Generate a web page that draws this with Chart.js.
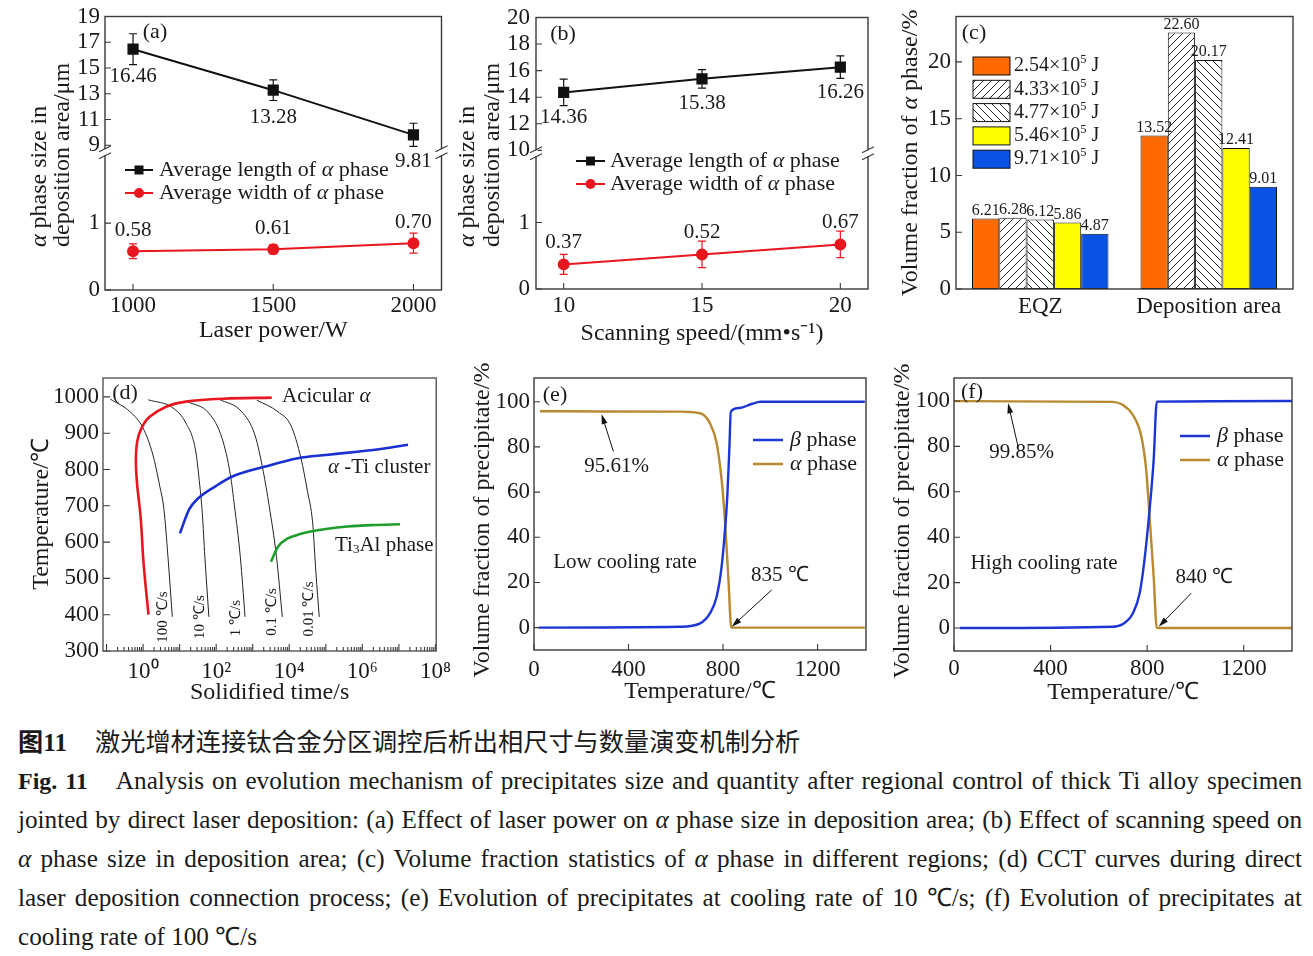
<!DOCTYPE html>
<html lang="zh">
<head>
<meta charset="utf-8">
<title>Fig. 11</title>
<script src="https://cdn.jsdelivr.net/npm/chart.js@4.4.1/dist/chart.umd.min.js"></script>
<style>
  html, body { margin: 0; padding: 0; background: #fff; }
  #page { position: relative; width: 1313px; height: 956px; overflow: hidden; background: #fff; }
  #page canvas { position: absolute; }
  .cap { position: absolute; left: 18px; width: 1284px; color: #1a1a1a;
         font-family: "Liberation Serif", "Times New Roman", serif; font-size: 25.2px; line-height: 39px; }
  .cap .ln { height: 39px; white-space: nowrap; }
  .cjk { font-family: "Noto Sans CJK SC", sans-serif; }
</style>
</head>
<body>
<div id="page">
  <canvas id="cA" width="450" height="350" style="left:0;top:0"></canvas>
  <canvas id="cB" width="430" height="350" style="left:450px;top:0"></canvas>
  <canvas id="cC" width="433" height="350" style="left:880px;top:0"></canvas>
  <canvas id="cD" width="460" height="350" style="left:0;top:360px"></canvas>
  <canvas id="cE" width="420" height="350" style="left:460px;top:360px"></canvas>
  <canvas id="cF" width="433" height="350" style="left:880px;top:360px"></canvas>

  <div class="cap" style="top:721px;">
    <b><span class="cjk">图</span>11</b><span class="cjk" style="margin-left:28px;">激光增材连接钛合金分区调控后析出相尺寸与数量演变机制分析</span>
  </div>
  <div class="cap" style="top:761px;">
    <div class="ln"><span><b style="font-size:24px">Fig. 11</b><span style="display:inline-block;width:28px"></span>Analysis on evolution mechanism of precipitates size and quantity after regional control of thick Ti alloy specimen</span></div>
    <div class="ln"><span>jointed by direct laser deposition: (a) Effect of laser power on <i>α</i> phase size in deposition area; (b) Effect of scanning speed on</span></div>
    <div class="ln"><span><i>α</i> phase size in deposition area; (c) Volume fraction statistics of <i>α</i> phase in different regions; (d) CCT curves during direct</span></div>
    <div class="ln"><span>laser deposition connection process; (e) Evolution of precipitates at cooling rate of 10 ℃/s; (f) Evolution of precipitates at</span></div>
    <div class="ln last"><span>cooling rate of 100 ℃/s</span></div>
  </div>
</div>

<script>
// =======================
// Data
// (a) laser power
const powerW = [1000, 1500, 2000];
const lenByPower = [16.46, 13.28, 9.81];
const lenByPowerErr = [1.2, 0.8, 0.9];
const widByPower = [0.58, 0.61, 0.7];
const widByPowerErr = [0.11, 0.07, 0.15];
const aUpTicks = [9, 11, 13, 15, 17, 19];
const aLowTicks = [0, 1];

// (b) scanning speed
const speedMm = [10, 15, 20];
const lenBySpeed = [14.36, 15.38, 16.26];
const lenBySpeedErr = [1.0, 0.7, 0.85];
const widBySpeed = [0.37, 0.52, 0.67];
const widBySpeedErr = [0.15, 0.2, 0.2];
const bUpTicks = [10, 12, 14, 16, 18, 20];
const bLowTicks = [0, 1];

// (c) volume fraction
const regions = ["EQZ", "Deposition area"];
const energyLabels = ["2.54×10⁵ J", "4.33×10⁵ J", "4.77×10⁵ J", "5.46×10⁵ J", "9.71×10⁵ J"];
const fracEQZ = [6.21, 6.28, 6.12, 5.86, 4.87];
const fracDep = [13.52, 22.6, 20.17, 12.41, 9.01];
const cTicks = [0, 5, 10, 15, 20];

// (d) CCT curves (time in s, temperature in ℃)
const acicularTime = [1.41, 1.17, 1.0, 0.89, 0.81, 0.69, 0.635, 0.69, 0.905, 1.51, 4.27, 14.8, 158, 3311];
const acicularTemp = [400, 480, 560, 647, 694, 757, 822, 877, 914, 945, 973, 987, 995, 998];
const clusterTime = [10.2, 18.2, 31.6, 100, 269, 2188, 17378, 1e5, 7.24e5, 3.98e6, 1.78e7];
const clusterTemp = [624, 690, 720, 755, 780, 808, 831, 840, 849, 858, 868];
const ti3alTime = [3162, 4898, 9120, 19953, 38905, 1e5, 3.89e5, 2e6, 1.07e7];
const ti3alTemp = [546, 587, 610, 622, 629, 636, 643, 647, 649];
const coolRates = ["100 ℃/s", "10 ℃/s", "1 ℃/s", "0.1 ℃/s", "0.01 ℃/s"];
const coolTime = [
  [0.126, 0.44, 1.0, 1.86, 2.82, 3.72, 4.79, 6.31],
  [1.38, 6.46, 14.8, 27.5, 35.5, 41.7, 49, 63.1],
  [16.6, 63.1, 145, 245, 316, 457, 617],
  [117, 501, 1148, 1950, 2818, 4467, 6457],
  [1288, 4898, 11220, 20893, 31623, 43652, 53703, 66069],
];
const coolTemp = [
  [994, 959, 914, 840, 757, 690, 560, 394],
  [992, 970, 928, 851, 757, 680, 560, 394],
  [987, 955, 886, 785, 700, 560, 394],
  [994, 959, 895, 794, 700, 560, 394],
  [991, 959, 920, 831, 739, 653, 515, 394],
];
const dTempTicks = [300, 400, 500, 600, 700, 800, 900, 1000];
const dLabelExp = [0, 2, 4, 6, 8];

// (e) low cooling rate
const lowBetaT = [20, 618, 703, 745, 773, 794, 808, 818, 827, 833, 870, 920, 960, 1400];
const lowBetaV = [0, 0.4, 1.9, 6.4, 13.7, 27, 43, 58, 80, 95.6, 97.2, 99, 100, 100];
const lowAlphaT = [25, 300, 618, 703, 745, 773, 794, 808, 823, 835, 1400];
const lowAlphaV = [95.8, 95.7, 95.6, 94.9, 90.4, 81.6, 65.4, 47.7, 21, 0, 0];
// (f) high cooling rate
const highBetaT = [25, 658, 700, 741, 769, 789, 810, 827, 840, 1400];
const highBetaV = [0, 0.6, 1.8, 6.5, 15.3, 30, 52, 74, 99.7, 100];
const highAlphaT = [0, 658, 700, 741, 776, 796, 813, 827, 840, 1400];
const highAlphaV = [99.9, 99.6, 98.2, 93.8, 84.3, 69.6, 44.6, 22.6, 0, 0];
const tempTicks = [0, 400, 800, 1200];
const fracTicks = [0, 20, 40, 60, 80, 100];

// =======================
// Utilities
const SERIF = '"Liberation Serif", "Times New Roman", serif';
const INK = "#1a1a1a";
const FRAME = "#3a3a3a";
const RED = "#e8161e";
const BLUE = "#1c36d6";
const GOLD = "#b8892f";
const SUP = "⁰¹²³⁴⁵⁶⁷⁸⁹";
const SUB = "₀₁₂₃₄₅₆₇₈₉";
const TITLE = 24;
const F = (size) => ({ family: SERIF, size, lineHeight: 1 });
const pts = (xs, ys) => xs.map((x, i) => ({ x, y: ys[i] }));
const alpha = (before, after) => [{ t: before }, { t: "α", i: true }, { t: after }];

Chart.defaults.font.family = SERIF;
Chart.defaults.color = INK;

function cssFont(size, italic) {
  return (italic ? "italic " : "") + size + "px " + SERIF;
}

// split unicode super/subscript digits into raised / lowered segments
function toSegs(s) {
  const src = typeof s === "string" ? [{ t: s }] : s;
  const out = [];
  for (const g of src) {
    let buf = "";
    for (const ch of g.t) {
      const up = SUP.indexOf(ch), dn = SUB.indexOf(ch);
      if (up >= 0 || dn >= 0) {
        if (buf) out.push({ t: buf, i: g.i });
        buf = "";
        out.push({ t: String(up >= 0 ? up : dn), i: g.i, shift: up >= 0 ? -1 : 1 });
      } else buf += ch;
    }
    if (buf) out.push({ t: buf, i: g.i });
  }
  return out;
}

function drawRich(ctx, s, x, y, size, align, rot, color) {
  const segs = toSegs(s);
  const fs = (g) => (g.shift ? size * 0.62 : size);
  ctx.save();
  ctx.translate(x, y);
  ctx.rotate(rot || 0);
  ctx.fillStyle = color || INK;
  ctx.textBaseline = "middle";
  ctx.textAlign = "left";
  let w = 0;
  for (const g of segs) {
    ctx.font = cssFont(fs(g), g.i);
    w += ctx.measureText(g.t).width;
  }
  let cx = align === "center" ? -w / 2 : align === "right" ? -w : 0;
  for (const g of segs) {
    ctx.font = cssFont(fs(g), g.i);
    const dy = g.shift ? g.shift * size * (g.shift < 0 ? 0.3 : 0.22) : 0;
    ctx.fillText(g.t, cx, dy);
    cx += ctx.measureText(g.t).width;
  }
  ctx.restore();
}

function hatch(dir) {
  const c = document.createElement("canvas");
  c.width = c.height = 8;
  const g = c.getContext("2d");
  g.fillStyle = "#fff";
  g.fillRect(0, 0, 8, 8);
  g.strokeStyle = "#222";
  g.lineWidth = 1;
  g.beginPath();
  if (dir > 0) {
    g.moveTo(0, 8); g.lineTo(8, 0);
    g.moveTo(-2, 2); g.lineTo(2, -2);
    g.moveTo(6, 10); g.lineTo(10, 6);
  } else {
    g.moveTo(0, 0); g.lineTo(8, 8);
    g.moveTo(-2, 6); g.lineTo(2, 10);
    g.moveTo(6, -2); g.lineTo(10, 2);
  }
  g.stroke();
  return g.createPattern(c, "repeat");
}

// scales
function xAxis(o) {
  const ticks = { font: F(o.fs || 23), color: INK, padding: o.pad, maxRotation: 0, autoSkip: false };
  if (o.fmt) ticks.callback = o.fmt;
  const ax = {
    type: o.type || "linear",
    afterFit: (s) => { s.height = o.h; },
    grid: { display: false, drawTicks: false },
    border: { display: false },
    ticks,
    title: o.title
      ? { display: true, text: o.title, font: F(TITLE), color: INK, padding: { top: 0, bottom: o.tpad } }
      : { display: false },
  };
  if (o.min !== undefined) ax.min = o.min;
  if (o.max !== undefined) ax.max = o.max;
  if (o.ticks) ax.afterBuildTicks = (s) => { s.ticks = o.ticks.map((v) => ({ value: v })); };
  return ax;
}

function yAxis(o) {
  const ax = {
    type: "linear",
    axis: "y",
    position: "left",
    min: o.min,
    max: o.max,
    afterBuildTicks: (s) => { s.ticks = o.ticks.map((v) => ({ value: v })); },
    afterFit: (s) => { s.width = o.w; },
    grid: { display: false, drawTicks: false },
    border: { display: false },
    ticks: { font: F(o.fs || 23), color: INK, padding: o.pad, autoSkip: false, callback: (v) => String(v) },
  };
  if (o.stack) {
    ax.stack = o.stack;
    ax.stackWeight = o.sw;
  }
  return ax;
}

function baseOptions(pad, scales) {
  return {
    responsive: false,
    animation: false,
    events: [],
    layout: { padding: pad },
    plugins: { legend: { display: false }, tooltip: { enabled: false } },
    scales,
  };
}

function lineSet(label, data, yAxisID, color, marker) {
  return {
    label, data, yAxisID,
    borderColor: color, backgroundColor: color,
    pointBackgroundColor: color, pointBorderColor: color,
    pointStyle: marker, pointRadius: marker === "rect" ? 6.5 : 5,
    borderWidth: 2, tension: 0,
  };
}

function curveSet(label, data, color, width, smooth) {
  const d = {
    label, data, borderColor: color, backgroundColor: color,
    borderWidth: width, pointRadius: 0, fill: false,
  };
  if (smooth === "mono") d.cubicInterpolationMode = "monotone";
  else d.tension = smooth || 0;
  return d;
}

// =======================
// Decoration plugin: inward ticks, frame, breaks, error bars, labels, legends
function deco(cfg) {
  return {
    id: "deco",
    afterDatasetsDraw(chart) {
      const ctx = chart.ctx;
      (cfg.errors || []).forEach(({ ds, err }) => {
        const meta = chart.getDatasetMeta(ds);
        const ys = chart.scales[meta.yAxisID];
        const set = chart.data.datasets[ds];
        ctx.save();
        ctx.strokeStyle = set.borderColor;
        ctx.lineWidth = 1.2;
        meta.data.forEach((el, j) => {
          const v = set.data[j].y;
          const t = ys.getPixelForValue(v + err[j]);
          const b = ys.getPixelForValue(v - err[j]);
          ctx.beginPath();
          ctx.moveTo(el.x, t); ctx.lineTo(el.x, b);
          ctx.moveTo(el.x - 4, t); ctx.lineTo(el.x + 4, t);
          ctx.moveTo(el.x - 4, b); ctx.lineTo(el.x + 4, b);
          ctx.stroke();
        });
        ctx.restore();
      });
    },
    afterDraw(chart) {
      const { ctx, chartArea: ca } = chart;

      // inward tick marks
      (cfg.ticks || []).forEach(({ id, len, minor }) => {
        const s = chart.scales[id];
        ctx.save();
        ctx.strokeStyle = FRAME;
        ctx.lineWidth = 1.1;
        ctx.beginPath();
        s.ticks.forEach((t) => {
          let l = len;
          if (minor) {
            const e = Math.log10(t.value);
            if (Math.abs(e - Math.round(e)) > 1e-6) l = minor;
          }
          const p = s.getPixelForValue(t.value);
          if (s.isHorizontal()) { ctx.moveTo(p, ca.bottom); ctx.lineTo(p, ca.bottom - l); }
          else { ctx.moveTo(ca.left, p); ctx.lineTo(ca.left + l, p); }
        });
        ctx.stroke();
        ctx.restore();
      });

      // frame
      ctx.save();
      ctx.strokeStyle = cfg.frameColor || FRAME;
      ctx.lineWidth = 1.4;
      ctx.strokeRect(ca.left, ca.top, ca.right - ca.left, ca.bottom - ca.top);
      ctx.restore();

      // axis break marks
      if (cfg.breakAt) {
        const y = chart.scales[cfg.breakAt].top;
        ctx.save();
        [ca.left, ca.right].forEach((x) => {
          ctx.fillStyle = "#fff";
          ctx.fillRect(x - 2, y - 3, 4, 6);
          ctx.strokeStyle = FRAME;
          ctx.lineWidth = 1.3;
          ctx.beginPath();
          [-3.5, 3.5].forEach((o) => {
            ctx.moveTo(x - 6, y + o + 3);
            ctx.lineTo(x + 6, y + o - 3);
          });
          ctx.stroke();
        });
        ctx.restore();
      }

      // value labels next to points
      (cfg.pointLabels || []).forEach(({ ds, dy }) => {
        const meta = chart.getDatasetMeta(ds);
        const set = chart.data.datasets[ds];
        meta.data.forEach((el, j) => drawRich(ctx, set.data[j].y.toFixed(2), el.x, el.y + dy, 21, "center"));
      });

      // value labels on bars
      if (cfg.barLabels) {
        chart.data.datasets.forEach((set, i) => {
          chart.getDatasetMeta(i).data.forEach((el, j) => {
            drawRich(ctx, set.data[j].toFixed(2), el.x, el.y - 8, 16, "center");
          });
        });
      }

      // free texts (pixel or data coordinates)
      (cfg.texts || []).forEach((t) => {
        let x = t.x, y = t.y;
        if (t.data) {
          x = chart.scales.x.getPixelForValue(t.x);
          y = chart.scales.y.getPixelForValue(t.y);
        }
        drawRich(ctx, t.s, x, y, t.size || 22, t.align || "left", t.rot || 0);
      });

      // arrows in data coordinates
      (cfg.arrows || []).forEach((a) => {
        const xs = chart.scales.x, ys = chart.scales.y;
        const x1 = xs.getPixelForValue(a.from[0]), y1 = ys.getPixelForValue(a.from[1]);
        const x2 = xs.getPixelForValue(a.to[0]), y2 = ys.getPixelForValue(a.to[1]);
        const ang = Math.atan2(y2 - y1, x2 - x1);
        const c = Math.cos(ang), s = Math.sin(ang);
        ctx.save();
        ctx.strokeStyle = "#111";
        ctx.fillStyle = "#111";
        ctx.lineWidth = 1;
        ctx.beginPath();
        ctx.moveTo(x1, y1);
        ctx.lineTo(x2 - 7 * c, y2 - 7 * s);
        ctx.stroke();
        ctx.beginPath();
        ctx.moveTo(x2, y2);
        ctx.lineTo(x2 - 10 * c - 3 * s, y2 - 10 * s + 3 * c);
        ctx.lineTo(x2 - 10 * c + 3 * s, y2 - 10 * s - 3 * c);
        ctx.closePath();
        ctx.fill();
        ctx.restore();
      });

      // line legends
      (cfg.legend || []).forEach((it) => {
        ctx.save();
        ctx.strokeStyle = it.color;
        ctx.fillStyle = it.color;
        ctx.lineWidth = it.lw || 2;
        ctx.beginPath();
        ctx.moveTo(it.x1, it.y);
        ctx.lineTo(it.x2, it.y);
        ctx.stroke();
        const cx = (it.x1 + it.x2) / 2;
        if (it.marker === "rect") ctx.fillRect(cx - 4.5, it.y - 4.5, 9, 9);
        if (it.marker === "circle") {
          ctx.beginPath();
          ctx.arc(cx, it.y, 5, 0, Math.PI * 2);
          ctx.fill();
        }
        ctx.restore();
        drawRich(ctx, it.s, it.tx, it.y, it.size || 22, "left");
      });

      // box legends
      (cfg.boxes || []).forEach((b) => {
        ctx.save();
        ctx.fillStyle = b.fill;
        ctx.fillRect(b.x, b.y - b.h / 2, b.w, b.h);
        ctx.strokeStyle = "#111";
        ctx.lineWidth = 1;
        ctx.strokeRect(b.x, b.y - b.h / 2, b.w, b.h);
        ctx.restore();
        drawRich(ctx, b.s, b.tx, b.y, b.size || 20, "left");
      });
    },
  };
}

const VT = -Math.PI / 2;

// =======================
// (a) Laser power  (lower axis first: Chart.js stacks it at the bottom)
new Chart(document.getElementById("cA"), {
  type: "line",
  data: {
    datasets: [
      lineSet("Average length of α phase", pts(powerW, lenByPower), "yUp", "#111", "rect"),
      lineSet("Average width of α phase", pts(powerW, widByPower), "yLow", RED, "circle"),
    ],
  },
  options: baseOptions({ left: 0, top: 16, right: 7, bottom: 0 }, {
    x: xAxis({ min: 900, max: 2100, ticks: powerW, h: 60, pad: 4, title: "Laser power/W", tpad: 7, fmt: (v) => String(v) }),
    yLow: yAxis({ min: 0, max: 2.06, ticks: aLowTicks, w: 105, pad: 5, stack: "a", sw: 138 }),
    yUp: yAxis({ min: 8.46, max: 19, ticks: aUpTicks, w: 105, pad: 5, stack: "a", sw: 136 }),
  }),
  plugins: [deco({
    ticks: [{ id: "x", len: 6 }, { id: "yUp", len: 6 }, { id: "yLow", len: 6 }],
    breakAt: "yLow",
    errors: [{ ds: 0, err: lenByPowerErr }, { ds: 1, err: widByPowerErr }],
    pointLabels: [{ ds: 0, dy: 27 }, { ds: 1, dy: -21 }],
    texts: [
      { s: "(a)", x: 155, y: 32, align: "center" },
      { s: alpha("", " phase size in"), x: 40, y: 247, rot: VT, size: TITLE },
      { s: "deposition area/μm", x: 63, y: 247, rot: VT, size: TITLE },
    ],
    legend: [
      { x1: 125, x2: 153, y: 170, color: "#111", marker: "rect", tx: 159, s: alpha("Average length of ", " phase") },
      { x1: 125, x2: 153, y: 193, color: RED, marker: "circle", tx: 159, s: alpha("Average width of ", " phase") },
    ],
  })],
});

// =======================
// (b) Scanning speed
new Chart(document.getElementById("cB"), {
  type: "line",
  data: {
    datasets: [
      lineSet("Average length of α phase", pts(speedMm, lenBySpeed), "yUp", "#111", "rect"),
      lineSet("Average width of α phase", pts(speedMm, widBySpeed), "yLow", RED, "circle"),
    ],
  },
  options: baseOptions({ left: 0, top: 16, right: 12, bottom: 0 }, {
    x: xAxis({ min: 9, max: 21, ticks: speedMm, h: 61, pad: 5, title: "Scanning speed/(mm•s⁻¹)", tpad: 4, fmt: (v) => String(v) }),
    yLow: yAxis({ min: 0, max: 2.04, ticks: bLowTicks, w: 86, pad: 6, stack: "b", sw: 136.5 }),
    yUp: yAxis({ min: 9.78, max: 20, ticks: bUpTicks, w: 86, pad: 6, stack: "b", sw: 136.5 }),
  }),
  plugins: [deco({
    ticks: [{ id: "x", len: 6 }, { id: "yUp", len: 6 }, { id: "yLow", len: 6 }],
    breakAt: "yLow",
    errors: [{ ds: 0, err: lenBySpeedErr }, { ds: 1, err: widBySpeedErr }],
    pointLabels: [{ ds: 0, dy: 25 }, { ds: 1, dy: -22 }],
    texts: [
      { s: "(b)", x: 113, y: 34, align: "center" },
      { s: alpha("", " phase size in"), x: 18, y: 247, rot: VT, size: TITLE },
      { s: "deposition area/μm", x: 43, y: 247, rot: VT, size: TITLE },
    ],
    legend: [
      { x1: 126, x2: 155, y: 161, color: "#111", marker: "rect", tx: 160, s: alpha("Average length of ", " phase") },
      { x1: 126, x2: 155, y: 184, color: RED, marker: "circle", tx: 160, s: alpha("Average width of ", " phase") },
    ],
  })],
});

// =======================
// (c) Volume fraction of α phase
const barFills = ["#ff6a00", hatch(1), hatch(-1), "#ffff00", "#0a52e4"];
new Chart(document.getElementById("cC"), {
  type: "bar",
  data: {
    labels: regions,
    datasets: energyLabels.map((lab, i) => ({
      label: lab,
      data: [fracEQZ[i], fracDep[i]],
      backgroundColor: barFills[i],
      borderColor: "#111",
      borderWidth: 1,
      borderSkipped: false,
      barPercentage: 1,
      categoryPercentage: 0.81,
    })),
  },
  options: baseOptions({ left: 0, top: 16, right: 20, bottom: 0 }, {
    x: xAxis({ type: "category", h: 61, pad: 6 }),
    y: yAxis({ min: 0, max: 24, ticks: cTicks, w: 76, pad: 5 }),
  }),
  plugins: [deco({
    ticks: [{ id: "y", len: 6 }],
    barLabels: true,
    texts: [
      { s: "(c)", x: 94, y: 33, align: "center" },
      { s: alpha("Volume fraction of ", " phase/%"), x: 31, y: 153, rot: VT, align: "center", size: TITLE },
    ],
    boxes: energyLabels.map((lab, i) => ({
      x: 93, y: 66 + i * 23.3, w: 37, h: 18, fill: barFills[i], tx: 134, s: lab,
    })),
  })],
});

// =======================
// (d) CCT curves
const dTicks = [];
for (let e = -1; e <= 7; e++) {
  for (let m = 1; m <= 9; m++) {
    const v = m * Math.pow(10, e);
    if (v >= 0.08) dTicks.push(v);
  }
}
dTicks.push(1e8);
const fmtDecade = (v) => {
  const e = Math.log10(v);
  const r = Math.round(e);
  return Math.abs(e - r) < 1e-6 && dLabelExp.includes(r) ? "10" + SUP[r] : "";
};

new Chart(document.getElementById("cD"), {
  type: "line",
  data: {
    datasets: [
      curveSet("Acicular α", pts(acicularTime, acicularTemp), RED, 2.6, 0.35),
      curveSet("α-Ti cluster", pts(clusterTime, clusterTemp), "#1a2fd2", 2.6, "mono"),
      curveSet("Ti3Al phase", pts(ti3alTime, ti3alTemp), "#1f9e2c", 2.6, "mono"),
      ...coolRates.map((r, i) => curveSet(r, pts(coolTime[i], coolTemp[i]), "#222", 1, "mono")),
    ],
  },
  options: baseOptions({ left: 0, top: 18, right: 20, bottom: 0 }, {
    x: xAxis({ type: "logarithmic", min: 0.08, max: 1.05e8, ticks: dTicks, h: 59, pad: 9, title: "Solidified time/s", tpad: 5, fmt: fmtDecade }),
    y: yAxis({ min: 300, max: 1052, ticks: dTempTicks, w: 103, pad: 4 }),
  }),
  plugins: [deco({
    ticks: [{ id: "x", len: 7, minor: 4 }, { id: "y", len: 7 }],
    frameColor: "#555",
    texts: [
      { s: "(d)", x: 125, y: 33, align: "center" },
      { s: "Temperature/℃", x: 42, y: 154, rot: VT, align: "center", size: TITLE },
      { s: alpha("Acicular ", ""), x: 282, y: 36, size: 21 },
      { s: [{ t: "α", i: true }, { t: " -Ti cluster" }], x: 328, y: 107, size: 21 },
      { s: "Ti₃Al phase", x: 335, y: 185, size: 21 },
      { s: coolRates[0], x: 163, y: 257, rot: VT, align: "center", size: 15 },
      { s: coolRates[1], x: 200, y: 257, rot: VT, align: "center", size: 15 },
      { s: coolRates[2], x: 236, y: 258, rot: VT, align: "center", size: 15 },
      { s: coolRates[3], x: 272, y: 252, rot: VT, align: "center", size: 15 },
      { s: coolRates[4], x: 309, y: 249, rot: VT, align: "center", size: 15 },
    ],
  })],
});

// =======================
// (e) and (f) precipitate evolution
function phaseChart(id, pad, xMax, yMin, yMax, beta, alphaPts, extra) {
  new Chart(document.getElementById(id), {
    type: "line",
    data: {
      datasets: [
        curveSet("β phase", beta, BLUE, 2.4, "mono"),
        curveSet("α phase", alphaPts, GOLD, 2.4, "mono"),
      ],
    },
    options: baseOptions(pad, {
      x: xAxis({ min: 0, max: xMax, ticks: tempTicks, h: extra.xh, pad: extra.xpad, title: "Temperature/℃", tpad: extra.tpad, fmt: (v) => String(v) }),
      y: yAxis({ min: yMin, max: yMax, ticks: fracTicks, w: 74, pad: 4, fs: 23 }),
    }),
    plugins: [deco(extra.deco)],
  });
}

phaseChart("cE", { left: 0, top: 18, right: 14, bottom: 0 }, 1405, -9.9, 110.5,
  pts(lowBetaT, lowBetaV), pts(lowAlphaT, lowAlphaV), {
    xh: 60, xpad: 8, tpad: 6,
    deco: {
      ticks: [{ id: "x", len: 6 }, { id: "y", len: 6 }],
      texts: [
        { s: "(e)", x: 95, y: 35, align: "center" },
        { s: "Volume fraction of precipitate/%", x: 23, y: 160, rot: VT, align: "center", size: TITLE },
        { s: "95.61%", x: 350, y: 71.5, data: true, align: "center", size: 21 },
        { s: "Low cooling rate", x: 385, y: 29, data: true, align: "center", size: 21 },
        { s: "835 ℃", x: 1041, y: 23.3, data: true, align: "center", size: 21 },
      ],
      arrows: [
        { from: [336, 78], to: [286, 94.5] },
        { from: [1006, 16.7], to: [837, 0.4] },
      ],
      legend: [
        { x1: 293, x2: 323, y: 80, color: BLUE, lw: 2.5, tx: 330, s: [{ t: "β", i: true }, { t: " phase" }] },
        { x1: 293, x2: 323, y: 104, color: GOLD, lw: 2.5, tx: 330, s: alpha("", " phase") },
      ],
    },
  });

phaseChart("cF", { left: 0, top: 18, right: 21, bottom: 0 }, 1400, -10.1, 110.1,
  pts(highBetaT, highBetaV), pts(highAlphaT, highAlphaV), {
    xh: 59, xpad: 6, tpad: 5,
    deco: {
      ticks: [{ id: "x", len: 6 }, { id: "y", len: 6 }],
      texts: [
        { s: "(f)", x: 92, y: 32, align: "center" },
        { s: "Volume fraction of precipitate/%", x: 23, y: 161, rot: VT, align: "center", size: TITLE },
        { s: "99.85%", x: 280, y: 77.2, data: true, align: "center", size: 21 },
        { s: "High cooling rate", x: 373, y: 28.5, data: true, align: "center", size: 21 },
        { s: "840 ℃", x: 1037, y: 22.3, data: true, align: "center", size: 21 },
      ],
      arrows: [
        { from: [266, 79.6], to: [224, 99] },
        { from: [982, 15.3], to: [848, 0.6] },
      ],
      legend: [
        { x1: 300, x2: 330, y: 76, color: BLUE, lw: 2.5, tx: 337, s: [{ t: "β", i: true }, { t: " phase" }] },
        { x1: 300, x2: 330, y: 100, color: GOLD, lw: 2.5, tx: 337, s: alpha("", " phase") },
      ],
    },
  });

// =======================
// Caption: stretch each full line to the column width
document.querySelectorAll(".cap .ln:not(.last)").forEach((ln) => {
  const inner = ln.firstElementChild;
  const w = inner.getBoundingClientRect().width;
  const gaps = (ln.textContent.match(/ /g) || []).length;
  if (gaps) ln.style.wordSpacing = (1284 - w) / gaps + "px";
});
</script>
</body>
</html>
